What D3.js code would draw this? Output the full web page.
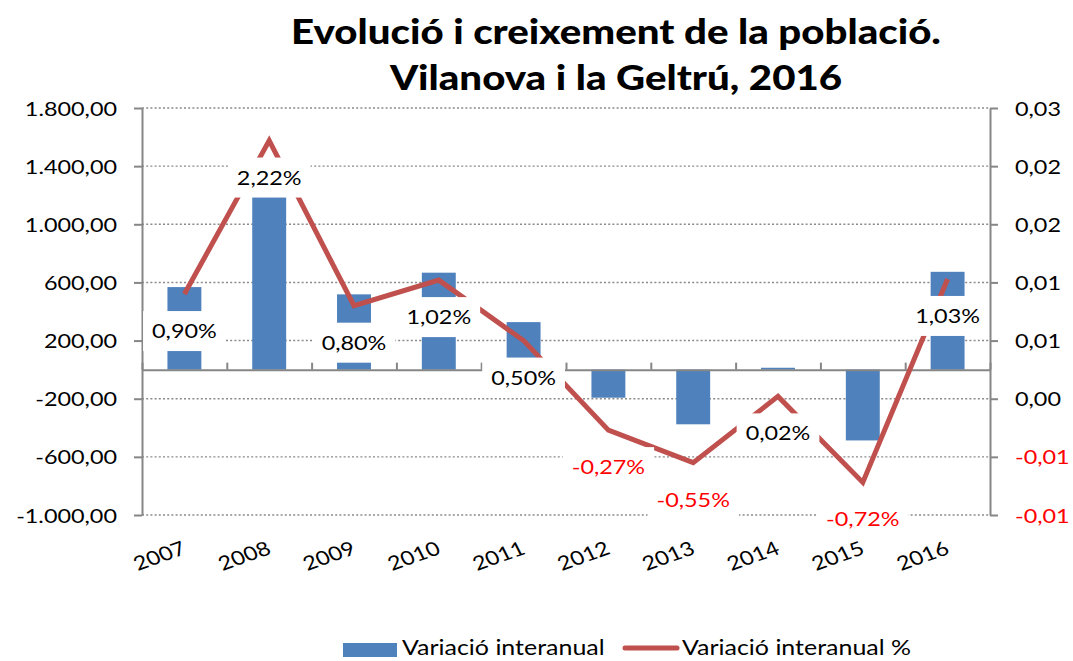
<!DOCTYPE html>
<html>
<head>
<meta charset="utf-8">
<script src="https://cdn.jsdelivr.net/npm/d3@7"></script>
<style>
  body { margin: 0; background: #fff; }
  svg { display: block; }
  text { font-family: Lato, 'Open Sans', sans-serif; }
</style>
</head>
<body>
<svg id="chart" width="1073" height="661"></svg>
<script>
// data
const years = ['2007', '2008', '2009', '2010', '2011', '2012', '2013', '2014', '2015', '2016'];
const variacio = [568, 1400, 518, 667, 327, -193, -376, 13, -487, 673];
const variacioPct = [0.0090, 0.0222, 0.0080, 0.0102, 0.0050, -0.0027, -0.0055, 0.0002, -0.0072, 0.0103];
const leftTicks = [-1000, -600, -200, 200, 600, 1000, 1400, 1800];
const rightTicks = [-0.01, -0.005, 0, 0.005, 0.01, 0.015, 0.02, 0.025];
const rightTickLabels = ['-0,01', '-0,01', '0,00', '0,01', '0,01', '0,02', '0,02', '0,03'];

const SX = 1.2;          // the original picture is stretched sideways, text too
const BLUE = '#4F81BD';
const RED = '#C0504D';
const AXIS = '#868686';

const svg = d3.select('#chart');
const plot = { left: 142, right: 990, top: 108, bottom: 515 };

const locale = d3.formatLocale({ decimal: ',', thousands: '.', grouping: [3], currency: ['', '€'], minus: '-' });
const fmtNum = locale.format(',.2f');
const fmtPct = locale.format('.2%');

const x = d3.scaleBand().domain(years).range([plot.left, plot.right]).paddingInner(0.6).paddingOuter(0.3);
const xEdge = d3.scaleLinear().domain([0, years.length]).range([plot.left, plot.right]);
const yL = d3.scaleLinear().domain([-1000, 1800]).range([plot.bottom, plot.top]);
const yR = d3.scaleLinear().domain([-0.01, 0.025]).range([plot.bottom, plot.top]);
const cx = d => x(d) + x.bandwidth() / 2;

// gridlines
svg.append('g')
  .selectAll('line')
  .data(leftTicks)
  .enter()
  .append('line')
  .attr('x1', plot.left).attr('x2', plot.right)
  .attr('y1', d => yL(d)).attr('y2', d => yL(d))
  .attr('stroke', '#8a8a8a')
  .attr('stroke-width', 1.4)
  .attr('stroke-dasharray', '2,2.2');

// bars
svg.append('g')
  .selectAll('rect')
  .data(years)
  .enter()
  .append('rect')
  .attr('x', d => x(d))
  .attr('width', x.bandwidth())
  .attr('y', (d, i) => Math.min(yL(variacio[i]), yL(0)))
  .attr('height', (d, i) => Math.abs(yL(variacio[i]) - yL(0)))
  .attr('fill', BLUE);

// axes
function styleAxis(g) {
  g.select('.domain').attr('stroke', AXIS).attr('stroke-width', 2);
  g.selectAll('.tick line').attr('stroke', AXIS).attr('stroke-width', 2);
}

const leftAxis = svg.append('g')
  .attr('transform', `translate(${plot.left},0)`)
  .call(d3.axisLeft(yL).tickValues(leftTicks).tickSize(8).tickSizeOuter(0).tickFormat(fmtNum))
  .call(styleAxis);
leftAxis.selectAll('.tick text')
  .attr('x', null).attr('dy', '0.36em')
  .attr('transform', `translate(-25,0) scale(${SX},1)`)
  .attr('font-size', 19.5).attr('fill', '#000');

const rightAxis = svg.append('g')
  .attr('transform', `translate(${plot.right},0)`)
  .call(d3.axisRight(yR).tickValues(rightTicks).tickSize(8).tickSizeOuter(0)
    .tickFormat((d, i) => rightTickLabels[i]))
  .call(styleAxis);
rightAxis.selectAll('.tick text')
  .attr('x', null).attr('dy', '0.36em')
  .attr('transform', `translate(25,0) scale(${SX},1)`)
  .attr('font-size', 19.5)
  .attr('fill', d => d < 0 ? '#FF0000' : '#000');

svg.append('g')
  .attr('transform', `translate(0,${yL(0)})`)
  .call(d3.axisTop(xEdge).ticks(years.length).tickSize(7).tickSizeOuter(0).tickFormat(''))
  .call(styleAxis);

// category labels
svg.append('g')
  .selectAll('text')
  .data(years)
  .enter()
  .append('text')
  .attr('transform', d => `translate(${cx(d)},547) scale(${SX},1) rotate(-23)`)
  .attr('text-anchor', 'end')
  .attr('dy', '0.35em')
  .attr('font-size', 19.5)
  .text(d => d);

// line
const line = d3.line()
  .x(d => cx(d))
  .y((d, i) => yR(variacioPct[i]));

svg.append('path')
  .datum(years)
  .attr('d', line)
  .attr('fill', 'none')
  .attr('stroke', RED)
  .attr('stroke-width', 5)
  .attr('stroke-linejoin', 'miter');

// data labels, white boxes below each point
const labels = svg.append('g')
  .selectAll('g')
  .data(years)
  .enter()
  .append('g')
  .attr('transform', (d, i) => `translate(${cx(d)},${yR(variacioPct[i]) + 37})`);

labels.append('text')
  .attr('text-anchor', 'middle')
  .attr('dy', '0.36em')
  .attr('transform', `scale(${SX},1)`)
  .attr('font-size', 19.5)
  .attr('fill', (d, i) => variacioPct[i] < 0 ? '#FF0000' : '#000')
  .text((d, i) => fmtPct(variacioPct[i]));

labels.each(function () {
  const g = d3.select(this);
  const bb = g.select('text').node().getBBox();
  const w = bb.width * SX + 18;
  g.insert('rect', 'text')
    .attr('x', -w / 2).attr('y', -20)
    .attr('width', w).attr('height', 40)
    .attr('fill', '#fff');
});

// title
const title = ['Evolució i creixement de la població.', 'Vilanova i la Geltrú, 2016'];
svg.append('g')
  .selectAll('text')
  .data(title)
  .enter()
  .append('text')
  .attr('transform', (d, i) => `translate(616,${44 + i * 46}) scale(${SX},1)`)
  .attr('text-anchor', 'middle')
  .attr('font-size', 33.5)
  .attr('font-weight', 900)
  .text(d => d);

// legend
const legend = svg.append('g');
legend.append('rect')
  .attr('x', 343).attr('y', 643).attr('width', 54).attr('height', 14)
  .attr('fill', BLUE);
legend.append('text')
  .attr('transform', `translate(402,655) scale(${SX},1)`)
  .attr('font-size', 20.8)
  .text('Variació interanual');
legend.append('line')
  .attr('x1', 625).attr('x2', 677).attr('y1', 648).attr('y2', 648)
  .attr('stroke', RED).attr('stroke-width', 5).attr('stroke-linecap', 'round');
legend.append('text')
  .attr('transform', `translate(682,655) scale(${SX},1)`)
  .attr('font-size', 20.8)
  .text('Variació interanual %');
</script>
</body>
</html>
